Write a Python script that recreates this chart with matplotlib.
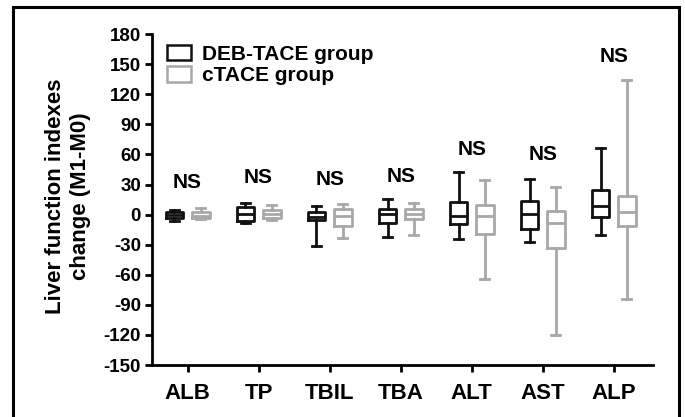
"""Liver function index change (M1-M0), DEB-TACE vs cTACE box plots."""

import matplotlib

matplotlib.use("Agg")
import matplotlib.pyplot as plt
from matplotlib.patches import Patch, Rectangle

plt.rcParams["font.family"] = ["Liberation Sans", "DejaVu Sans"]
plt.rcParams["font.weight"] = "bold"

CATEGORIES = ["ALB", "TP", "TBIL", "TBA", "ALT", "AST", "ALP"]

# whisker low, q1, median, q3, whisker high
DEB_LOW = [-6, -8, -31, -22, -24, -27, -20]
DEB_Q1 = [-3, -6, -5, -8, -9, -14, -2]
DEB_MED = [0, 1, -2, 1, -1, 1, 9]
DEB_Q3 = [3, 8, 3, 6, 13, 14, 25]
DEB_HIGH = [5, 12, 9, 16, 43, 36, 66]

CT_LOW = [-4, -5, -23, -20, -64, -120, -84]
CT_Q1 = [-3, -3, -11, -4, -19, -33, -11]
CT_MED = [-1, 1, -1, 1, -1, -8, 3]
CT_Q3 = [3, 5, 6, 6, 10, 4, 19]
CT_HIGH = [7, 10, 11, 12, 35, 28, 134]

NS_Y = [32, 37, 35, 38, 65, 60, 158]

Y_TICKS = list(range(-150, 181, 30))

DEB_COLOR = "#111111"
CT_COLOR = "#a8a8a8"


def make_stats(low, q1, med, q3, high):
    return [
        dict(whislo=a, q1=b, med=c, q3=d, whishi=e, fliers=[])
        for a, b, c, d, e in zip(low, q1, med, q3, high)
    ]


def draw_group(ax, stats, positions, color):
    w = 0.25
    ax.bxp(
        stats,
        positions=positions,
        widths=w,
        capwidths=w * 0.5,
        showfliers=False,
        boxprops=dict(color=color, linewidth=2.0),
        whiskerprops=dict(color=color, linewidth=2.0),
        capprops=dict(color=color, linewidth=2.0),
        medianprops=dict(color=color, linewidth=2.0),
        manage_ticks=False,
    )


fig = plt.figure(figsize=(6.85, 4.17), dpi=100)
ax = fig.add_axes([0.222, 0.1247, 0.731, 0.7933])

xs = list(range(len(CATEGORIES)))
off = 0.185
draw_group(ax, make_stats(DEB_LOW, DEB_Q1, DEB_MED, DEB_Q3, DEB_HIGH),
           [x - off for x in xs], DEB_COLOR)
draw_group(ax, make_stats(CT_LOW, CT_Q1, CT_MED, CT_Q3, CT_HIGH),
           [x + off for x in xs], CT_COLOR)

for x, y in zip(xs, NS_Y):
    ax.text(x, y, "NS", ha="center", va="center", fontsize=15,
            fontweight="bold")

ax.set_xlim(-0.5, 6.55)
ax.set_ylim(-150, 180)
ax.set_xticks(xs)
ax.set_xticklabels(CATEGORIES, fontsize=16, fontweight="bold")
ax.set_yticks(Y_TICKS)
ax.set_yticklabels([str(t) for t in Y_TICKS], fontsize=13.5,
                   fontweight="bold")
ax.tick_params(axis="both", direction="out", length=5, width=2, pad=3)
ax.tick_params(axis="x", pad=8)
for s in ("top", "right"):
    ax.spines[s].set_visible(False)
for s in ("left", "bottom"):
    ax.spines[s].set_linewidth(2)
ax.set_ylabel("Liver function indexes\nchange (M1-M0)", fontsize=16,
              fontweight="bold", linespacing=1.25)
ax.yaxis.set_label_coords(-0.122, 0.51)

handles = [
    Patch(facecolor="white", edgecolor=DEB_COLOR, linewidth=1.8,
          label="DEB-TACE group"),
    Patch(facecolor="white", edgecolor=CT_COLOR, linewidth=1.8,
          label="cTACE group"),
]
ax.legend(
    handles=handles,
    loc="upper left",
    bbox_to_anchor=(0.0, 1.012),
    frameon=False,
    handlelength=1.15,
    handleheight=0.75,
    handletextpad=0.55,
    labelspacing=0.12,
    borderaxespad=0.3,
    prop=dict(weight="bold", size=15),
)

# outer frame around the figure (bottom edge runs off the image)
fig.patches.append(
    Rectangle((13 / 685, -0.05), (679 - 13) / 685, 1.05 - 7 / 417,
              transform=fig.transFigure, fill=False, edgecolor="black",
              linewidth=2.2, zorder=10)
)

fig.savefig("out.png", dpi=100)
